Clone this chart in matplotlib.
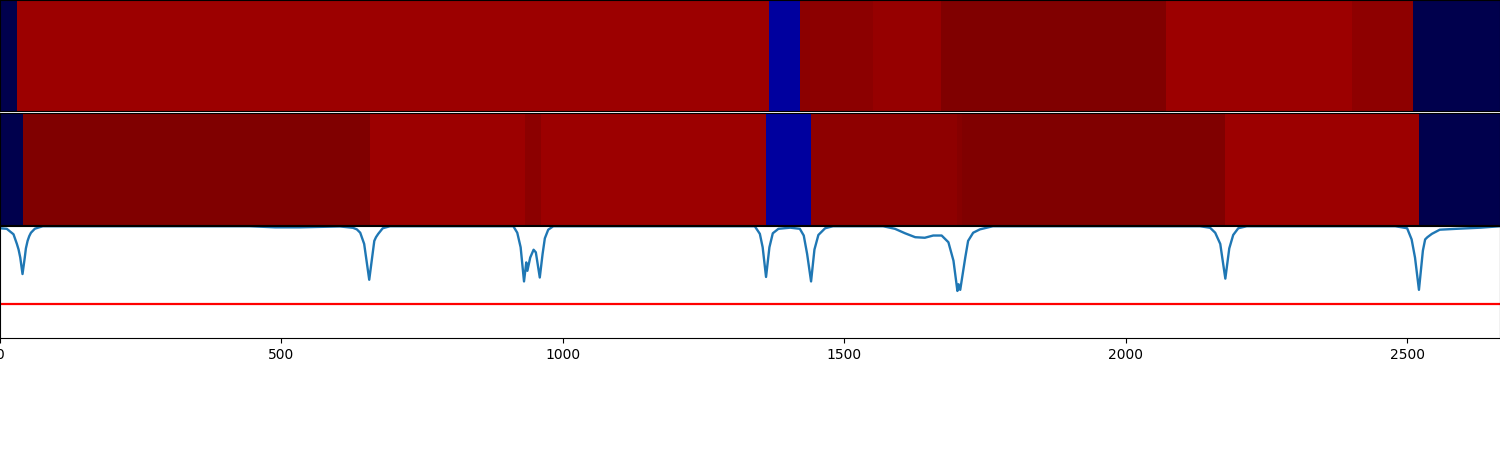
import matplotlib
matplotlib.use("Agg")
import matplotlib.pyplot as plt
import numpy as np

X_MAX = 2665
THRESHOLD = 0.305

row1_edges = [0, 30, 1367, 1421, 1551, 1672, 2072, 2402, 2510, X_MAX]
row1_values = [0.0, 0.945, 0.117, 0.975, 0.955, 1.0, 0.945, 0.97, 0.0]

row2_edges = [0, 41, 657, 933, 961, 1361, 1441, 1700, 1710, 2177, 2521, X_MAX]
row2_values = [0.0, 1.0, 0.945, 0.975, 0.945, 0.117, 0.97, 0.985, 1.0, 0.945, 0.0]

line_x = [0, 12, 24, 30, 33, 36, 40, 44, 46, 49, 52, 55, 62, 76, 444, 489, 533, 604, 627, 634,
          640, 647, 656, 665, 668, 672, 680, 693, 912, 919, 925, 931, 935, 937, 942, 948, 952,
          959, 964, 968, 974, 983, 1341, 1350, 1355, 1361, 1367, 1373, 1383, 1404, 1421, 1428,
          1434, 1441, 1447, 1454, 1466, 1480, 1569, 1590, 1608, 1626, 1643, 1658, 1673, 1685,
          1694, 1701, 1703, 1706, 1715, 1720, 1729, 1741, 1764, 2132, 2150, 2159, 2168, 2177,
          2184, 2191, 2200, 2215, 2479, 2500, 2508, 2514, 2521, 2528, 2532, 2536, 2544, 2558,
          2588, 2630, 2665]
line_y = [0.98, 0.975, 0.926, 0.84, 0.79, 0.718, 0.571, 0.718, 0.80, 0.867, 0.91, 0.94, 0.976,
          0.998, 0.998, 0.988, 0.988, 0.996, 0.984, 0.97, 0.94, 0.84, 0.52, 0.867, 0.90, 0.93,
          0.98, 0.998, 0.998, 0.94, 0.81, 0.505, 0.675, 0.60, 0.718, 0.788, 0.765, 0.54, 0.75,
          0.89, 0.967, 0.998, 0.998, 0.93, 0.81, 0.545, 0.81, 0.935, 0.975, 0.985, 0.975, 0.915,
          0.75, 0.505, 0.79, 0.92, 0.98, 0.998, 0.998, 0.975, 0.935, 0.90, 0.895, 0.915, 0.915,
          0.855, 0.69, 0.42, 0.48, 0.43, 0.72, 0.867, 0.94, 0.97, 0.998, 0.998, 0.984, 0.94,
          0.84, 0.53, 0.80, 0.92, 0.98, 0.998, 0.998, 0.98, 0.88, 0.718, 0.43, 0.78, 0.88, 0.90,
          0.93, 0.967, 0.975, 0.985, 0.998]

fig, axes = plt.subplots(3, 1, figsize=(15, 4.5), dpi=100, sharex=True)
for ax, (top_px, bottom_px) in zip(axes, ((0, 111.2), (113.4, 225.5), (226, 338.0))):
    ax.set_position([0, 1 - bottom_px / 450, 1, (bottom_px - top_px) / 450])

for ax, edges, values in ((axes[0], row1_edges, row1_values), (axes[1], row2_edges, row2_values)):
    ax.pcolormesh(edges, [0, 1], np.array([values]), cmap="seismic", vmin=0, vmax=1)
    ax.set_yticks([])
    ax.tick_params(axis="x", bottom=False, labelbottom=False)

axes[2].plot(line_x, line_y, linewidth=1.7)
axes[2].axhline(THRESHOLD, color="red", linewidth=1.6)
axes[2].set_ylim(0, 1)
axes[2].set_yticks([])
axes[2].set_xlim(0, X_MAX)
axes[2].set_xticks([0, 500, 1000, 1500, 2000, 2500])

fig.savefig("out.png", dpi=100)
